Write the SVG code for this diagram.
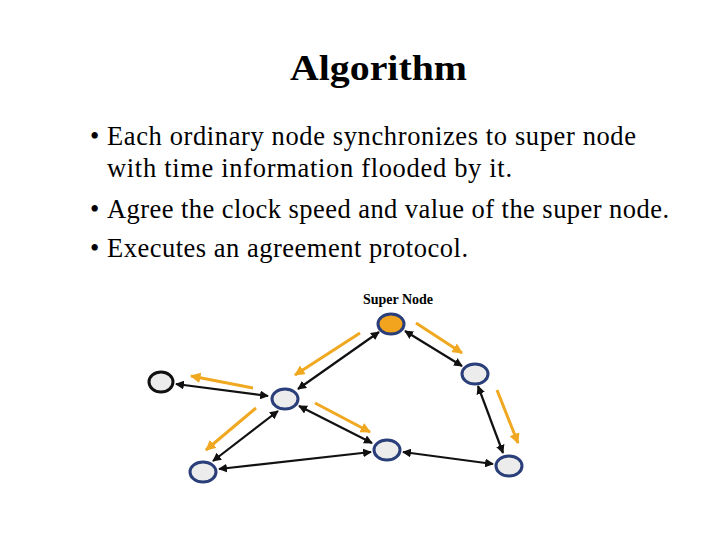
<svg xmlns="http://www.w3.org/2000/svg" width="720" height="540" viewBox="0 0 720 540">
<defs>
<style>
.t{font-family:"Liberation Serif",serif;font-size:26.5px;fill:#000}
.n{fill:#ececec;stroke:#2a3e7a;stroke-width:3}
.k{stroke:#111;stroke-width:2.2;fill:none;marker-start:url(#b);marker-end:url(#b)}
.o{stroke:#f0a820;stroke-width:3;fill:none;marker-end:url(#a)}
</style>
<marker id="b" viewBox="0 0 10 10" refX="9" refY="5" markerWidth="4" markerHeight="4" orient="auto-start-reverse"><path d="M0,0L10,5L0,10z" fill="#111"/></marker>
<marker id="a" viewBox="0 0 10 10" refX="9" refY="5" markerWidth="3.5" markerHeight="3.5" orient="auto"><path d="M0,0L10,5L0,10z" fill="#f0a820"/></marker>
</defs>
<rect width="720" height="540" fill="#fff"/>
<text x="290" y="80" textLength="177" lengthAdjust="spacingAndGlyphs" font-family="Liberation Serif,serif" font-size="36" font-weight="bold">Algorithm</text>
<text class="t" x="90" y="145">•</text><text class="t" x="107" y="145" textLength="529">Each ordinary node synchronizes to super node</text>
<text class="t" x="107" y="177" textLength="405">with time information flooded by it.</text>
<text class="t" x="90" y="218">•</text><text class="t" x="107" y="218" textLength="562">Agree the clock speed and value of the super node.</text>
<text class="t" x="90" y="257">•</text><text class="t" x="107" y="257" textLength="361">Executes an agreement protocol.</text>
<text x="398" y="304" text-anchor="middle" font-family="Liberation Serif,serif" font-size="14" font-weight="bold">Super Node</text>
<g id="connectors">
<line class="k" x1="379" y1="332" x2="298" y2="389"/>
<line class="k" x1="405" y1="331" x2="462" y2="366"/>
<line class="k" x1="478" y1="386" x2="503" y2="453"/>
<line class="k" x1="176" y1="384" x2="268" y2="396"/>
<line class="k" x1="278" y1="411" x2="213" y2="461"/>
<line class="k" x1="299" y1="406" x2="372" y2="443"/>
<line class="k" x1="219" y1="469" x2="371" y2="452"/>
<line class="k" x1="403" y1="452" x2="493" y2="464"/>
<line class="o" x1="360" y1="333" x2="295" y2="375"/>
<line class="o" x1="416" y1="323" x2="462" y2="353"/>
<line class="o" x1="497" y1="390" x2="518" y2="443"/>
<line class="o" x1="253" y1="388" x2="191" y2="376"/>
<line class="o" x1="256" y1="408" x2="206" y2="450"/>
<line class="o" x1="315" y1="403" x2="370" y2="432"/>
</g>
<g id="super"><ellipse cx="391" cy="324" rx="13" ry="10" fill="#f2a41e" stroke="#2a3e7a" stroke-width="3"/></g>
<g id="n1"><ellipse class="n" cx="475" cy="374" rx="13" ry="10"/></g>
<g id="n2"><ellipse cx="161" cy="382" rx="12" ry="10" fill="#ececec" stroke="#111" stroke-width="3"/></g>
<g id="n3"><ellipse class="n" cx="285" cy="399" rx="13" ry="10"/></g>
<g id="n4"><ellipse class="n" cx="203" cy="472" rx="13" ry="10"/></g>
<g id="n5"><ellipse class="n" cx="387" cy="450" rx="13" ry="10"/></g>
<g id="n6"><ellipse class="n" cx="509" cy="466" rx="13" ry="10"/></g>
</svg>
